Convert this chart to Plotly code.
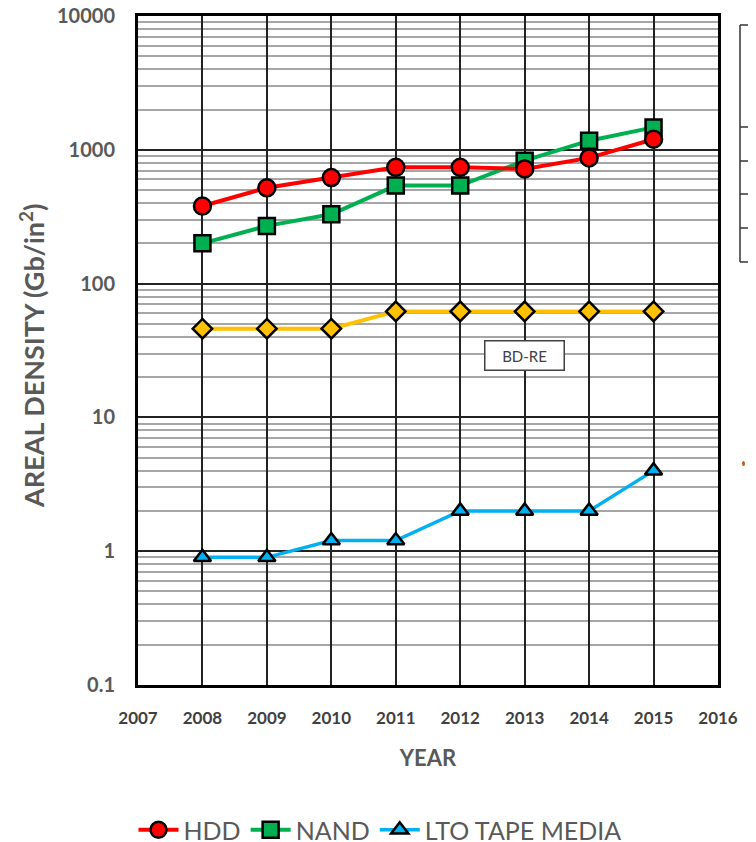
import plotly.graph_objects as go
import math

years = [2008, 2009, 2010, 2011, 2012, 2013, 2014, 2015]
hdd = [380, 520, 620, 740, 740, 720, 870, 1200]
nand = [200, 270, 330, 540, 540, 830, 1170, 1470]
bdre = [46, 46, 46, 62, 62, 62, 62, 62]
lto = [0.9, 0.9, 1.2, 1.2, 2.0, 2.0, 2.0, 4.0]

x_ticks = list(range(2007, 2017))
y_ticks = [0.1, 1, 10, 100, 1000, 10000]
y_tick_text = ["0.1", "1", "10", "100", "1000", "10000"]
minor_vals = [m * d for d in [0.1, 1, 10, 100, 1000] for m in range(2, 10)]

FONT = "Lato, 'Open Sans', sans-serif"
GRAY = "#595959"

# page body has an 8px margin; figure sized so it ends at the window edge
W, H = 748, 834
L, R, T, B = 130, 38, 8, 157
PW, PH = W - L - R, H - T - B
OFF = 8

fig = go.Figure()

def add(name, y, color, symbol, size, lw, show=True):
    fig.add_trace(go.Scatter(
        x=years, y=y, name=name, mode="lines+markers", showlegend=show,
        line=dict(color=color, width=lw),
        marker=dict(symbol=symbol, size=size, color=color,
                    line=dict(color="black", width=2.5)),
    ))

add("BD-RE", bdre, "#FFC000", "diamond", 15, 4, show=False)
add("LTO TAPE MEDIA", lto, "#00B0F0", "triangle-up", 15, 3.5)
add("NAND", nand, "#00B050", "square", 16, 4)
add("HDD", hdd, "#FF0000", "circle", 17, 4)

fig.update_layout(legend_traceorder="reversed")

# page pixel coords converted to paper
def px(p):
    return (p - OFF - L) / PW
def py(p):
    return 1 - (p - OFF - T) / PH

fig.add_annotation(
    x=2013, y=math.log10(29), text="BD-RE", showarrow=False,
    font=dict(family=FONT, size=15, color="#404040"),
    bgcolor="white", bordercolor="#404040", borderwidth=1.5,
    width=76, height=26,
)
fig.add_annotation(
    xref="paper", yref="paper", x=px(32), y=py(356),
    xanchor="center", yanchor="middle", textangle=-90, showarrow=False,
    text="AREAL DENSITY (Gb/in<sup>2</sup>)",
    font=dict(family=FONT, size=27, color=GRAY, weight="bold"),
)

# cropped table edge at right
shapes = [dict(type="line", xref="paper", yref="paper", x0=px(740), x1=px(740),
               y0=py(25), y1=py(262), line=dict(color="#333333", width=1.5))]
for p in [25, 127, 161, 194, 228, 262]:
    shapes.append(dict(type="line", xref="paper", yref="paper", x0=px(740), x1=px(760),
                       y0=py(p), y1=py(p), line=dict(color="#333333", width=1.5)))
shapes.append(dict(type="circle", xref="paper", yref="paper",
                   x0=px(742), x1=px(745), y0=py(466), y1=py(461),
                   fillcolor="#C55A11", line=dict(width=0)))

fig.update_layout(
    width=W, height=H,
    margin=dict(l=L, r=R, t=T, b=B, autoexpand=False),
    paper_bgcolor="white", plot_bgcolor="white",
    font=dict(family=FONT, color=GRAY),
    shapes=shapes,
    legend=dict(orientation="h", xref="container", yref="container",
                x=(380 - OFF) / W, xanchor="center",
                y=1 - (830 - OFF) / H, yanchor="middle",
                font=dict(family=FONT, size=25, color=GRAY),
                itemwidth=40, tracegroupgap=0),
    xaxis=dict(
        range=[2007, 2016], tickvals=x_ticks, ticktext=[str(v) for v in x_ticks],
        showgrid=True, gridcolor="#222222", gridwidth=1.5,
        showline=True, linecolor="black", linewidth=3, mirror=True,
        ticks="", ticklabelstandoff=16, automargin=False,
        tickfont=dict(family=FONT, size=17, color="#404040", weight="bold"),
        title=dict(text="YEAR", standoff=24,
                   font=dict(family=FONT, size=22, color=GRAY, weight="bold")),
        zeroline=False,
    ),
    yaxis=dict(
        type="log", range=[-1, 4], tickvals=y_ticks, ticktext=y_tick_text,
        showgrid=True, gridcolor="#222222", gridwidth=1.5,
        minor=dict(tickvals=minor_vals, showgrid=True, gridcolor="#A6A6A6",
                   gridwidth=1.5, ticks=""),
        showline=True, linecolor="black", linewidth=3, mirror=True,
        ticks="", ticklabelstandoff=16, automargin=False,
        ticklabeloverflow="allow",
        tickfont=dict(family=FONT, size=20, color=GRAY, weight="bold"),
        zeroline=False,
    ),
)

fig.write_html("out.html")
